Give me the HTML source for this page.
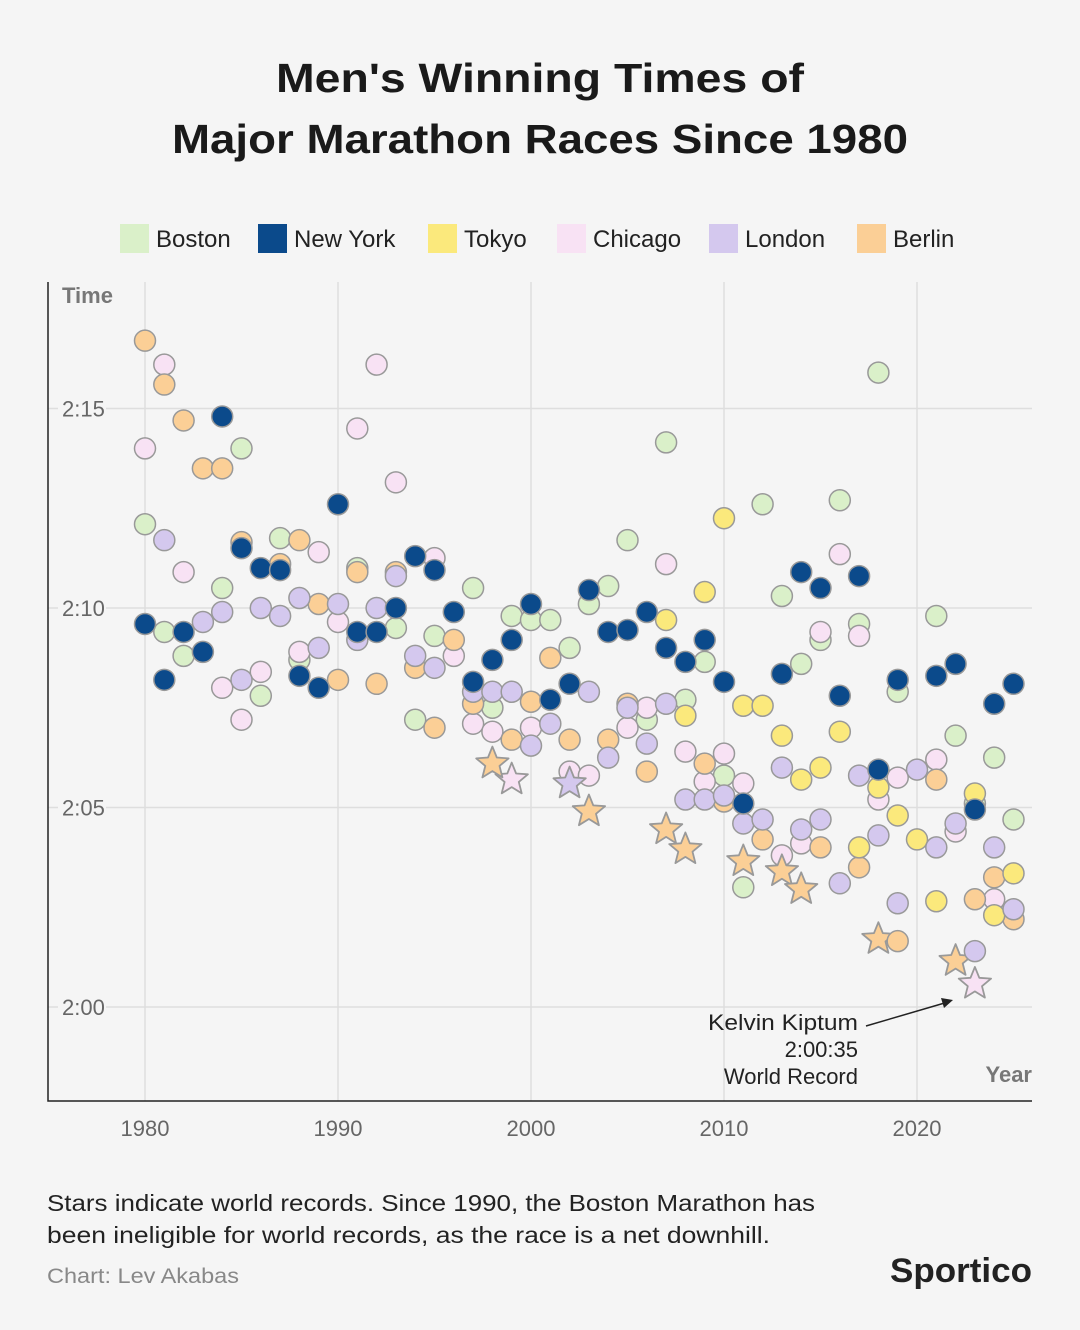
<!DOCTYPE html>
<html><head><meta charset="utf-8">
<style>
body{margin:0;background:#f5f5f5;}
svg{display:block;font-family:"Liberation Sans",sans-serif;}
</style></head>
<body>
<svg id="chart" width="1080" height="1330" viewBox="0 0 1080 1330">
<rect width="1080" height="1330" fill="#f5f5f5"/>
<text x="276" y="92" font-size="41" font-weight="bold" fill="#1a1a1a" textLength="528" lengthAdjust="spacingAndGlyphs">Men's Winning Times of</text>
<text x="172" y="153" font-size="41" font-weight="bold" fill="#1a1a1a" textLength="736" lengthAdjust="spacingAndGlyphs">Major Marathon Races Since 1980</text>
<g id="legend"></g>
<g id="grid"></g>
<g id="marks"></g>
<text x="62" y="303" font-size="22" font-weight="bold" fill="#777">Time</text>
<text x="1032" y="1082" text-anchor="end" font-size="22" font-weight="bold" fill="#777">Year</text>
<g>
<text x="708" y="1030" font-size="22" fill="#222" textLength="150" lengthAdjust="spacingAndGlyphs">Kelvin Kiptum</text>
<text x="858" y="1057" text-anchor="end" font-size="22" fill="#222">2:00:35</text>
<text x="858" y="1084" text-anchor="end" font-size="22" fill="#222">World Record</text>
<line x1="866" y1="1026" x2="948" y2="1002" stroke="#222" stroke-width="1.5"/>
<path d="M953,1000 L941,998 L944,1008 Z" fill="#222"/>
</g>
<text x="47" y="1211" font-size="23" fill="#222" textLength="768" lengthAdjust="spacingAndGlyphs">Stars indicate world records. Since 1990, the Boston Marathon has</text>
<text x="47" y="1243" font-size="23" fill="#222" textLength="723" lengthAdjust="spacingAndGlyphs">been ineligible for world records, as the race is a net downhill.</text>
<text x="47" y="1283" font-size="21" fill="#888" textLength="192" lengthAdjust="spacingAndGlyphs">Chart: Lev Akabas</text>
<text x="890" y="1282" font-size="34" font-weight="bold" fill="#222" textLength="142" lengthAdjust="spacingAndGlyphs">Sportico</text>
</svg>
<script>
const seriesNames = ["Boston","New York","Tokyo","Chicago","London","Berlin"];
const seriesColors = ["#daf0c9","#0b4a8b","#fbe97c","#f8e2f4","#d4c8ee","#fbcf96"];
const xTicks = [1980,1990,2000,2010,2020];
const yTicks = [0,5,10,15];
const yTickLabels = ["2:00","2:05","2:10","2:15"];

const bostonYears = [1980,1981,1982,1984,1985,1986,1987,1988,1991,1993,1994,1995,1997,1998,1999,2000,2001,2002,2003,2004,2005,2006,2007,2008,2009,2010,2011,2012,2013,2014,2015,2016,2017,2018,2019,2021,2022,2023,2024,2025];
const bostonTimes = [12.1,9.4,8.8,10.5,14.0,7.8,11.75,8.7,11.0,9.5,7.2,9.3,10.5,7.5,9.8,9.7,9.7,9.0,10.1,10.55,11.7,7.2,14.15,7.7,8.65,5.8,3.0,12.6,10.3,8.6,9.2,12.7,9.6,15.9,7.9,9.8,6.8,5.1,6.25,4.7];
const bostonRecords = [];

const nyYears = [1980,1981,1982,1983,1984,1985,1986,1987,1988,1989,1990,1991,1992,1993,1994,1995,1996,1997,1998,1999,2000,2001,2002,2003,2004,2005,2006,2007,2008,2009,2010,2011,2013,2014,2015,2016,2017,2018,2019,2021,2022,2023,2024,2025];
const nyTimes = [9.6,8.2,9.4,8.9,14.8,11.5,11.0,10.95,8.3,8.0,12.6,9.4,9.4,10.0,11.3,10.95,9.9,8.15,8.7,9.2,10.1,7.7,8.1,10.45,9.4,9.45,9.9,9.0,8.65,9.2,8.15,5.1,8.35,10.9,10.5,7.8,10.8,5.95,8.2,8.3,8.6,4.95,7.6,8.1];
const nyRecords = [];

const tokyoYears = [2007,2008,2009,2010,2011,2012,2013,2014,2015,2016,2017,2018,2019,2020,2021,2023,2024,2025];
const tokyoTimes = [9.7,7.3,10.4,12.25,7.55,7.55,6.8,5.7,6.0,6.9,4.0,5.5,4.8,4.2,2.65,5.35,2.3,3.35];
const tokyoRecords = [];

const chicagoYears = [1980,1981,1982,1984,1985,1986,1988,1989,1990,1991,1992,1993,1995,1996,1997,1998,1999,2000,2002,2003,2005,2006,2007,2008,2009,2010,2011,2013,2014,2015,2016,2017,2018,2019,2021,2022,2023,2024];
const chicagoTimes = [14.0,16.1,10.9,8.0,7.2,8.4,8.9,11.4,9.65,14.5,16.1,13.15,11.25,8.8,7.1,6.9,5.7,7.0,5.9,5.8,7.0,7.5,11.1,6.4,5.65,6.35,5.6,3.8,4.1,9.4,11.35,9.3,5.2,5.75,6.2,4.4,0.58,2.7];
const chicagoRecords = [1999,2023];

const londonYears = [1981,1983,1984,1985,1986,1987,1988,1989,1990,1991,1992,1993,1994,1995,1997,1998,1999,2000,2001,2002,2003,2004,2005,2006,2007,2008,2009,2010,2011,2012,2013,2014,2015,2016,2017,2018,2019,2020,2021,2022,2023,2024,2025];
const londonTimes = [11.7,9.65,9.9,8.2,10.0,9.8,10.25,9.0,10.1,9.2,10.0,10.8,8.8,8.5,7.9,7.9,7.9,6.55,7.1,5.6,7.9,6.25,7.5,6.6,7.6,5.2,5.2,5.3,4.6,4.7,6.0,4.45,4.7,3.1,5.8,4.3,2.6,5.95,4.0,4.6,1.4,4.0,2.45];
const londonRecords = [2002];

const berlinYears = [1980,1981,1982,1983,1984,1985,1987,1988,1989,1990,1991,1992,1993,1994,1995,1996,1997,1998,1999,2000,2001,2002,2003,2004,2005,2006,2007,2008,2009,2010,2011,2012,2013,2014,2015,2017,2018,2019,2021,2022,2023,2024,2025];
const berlinTimes = [16.7,15.6,14.7,13.5,13.5,11.65,11.1,11.7,10.1,8.2,10.9,8.1,10.9,8.5,7.0,9.2,7.6,6.1,6.7,7.65,8.75,6.7,4.9,6.7,7.6,5.9,4.45,3.95,6.1,5.15,3.65,4.2,3.4,2.95,4.0,3.5,1.7,1.65,5.7,1.15,2.7,3.25,2.2];
const berlinRecords = [1998,2003,2007,2008,2011,2013,2014,2018,2022];

const allYears = [bostonYears,nyYears,tokyoYears,chicagoYears,londonYears,berlinYears];
const allTimes = [bostonTimes,nyTimes,tokyoTimes,chicagoTimes,londonTimes,berlinTimes];
const allRecords = [bostonRecords,nyRecords,tokyoRecords,chicagoRecords,londonRecords,berlinRecords];

const NS = "http://www.w3.org/2000/svg";
const X0 = 48, X1 = 1032, Y0 = 282, Y1 = 1101;
function xScale(yr){ return 145 + (yr - 1980) * 19.3; }
function yScale(m){ return 1007 - m * 39.9; }
function mk(tag, attrs, parent){ const e = document.createElementNS(NS, tag); for (const k in attrs) e.setAttribute(k, attrs[k]); parent.appendChild(e); return e; }

const grid = document.getElementById("grid");
xTicks.forEach(function(t){
  const l = mk("line",{x1:xScale(t),x2:xScale(t),y1:Y0,y2:Y1,stroke:"#dedede","stroke-width":1.5},grid);
  
  
  const tx = mk("text",{x:xScale(t),y:1136,"text-anchor":"middle","font-size":22,fill:"#666"},grid);
  tx.textContent = t;
  
  
});
yTicks.forEach(function(t,i){
  const l = mk("line",{x1:X0,x2:X1,y1:yScale(t),y2:yScale(t),stroke:"#dedede","stroke-width":1.5},grid);
  
  
  mk("rect",{x:58,y:yScale(t)-12,width:48,height:24,fill:"#f5f5f5"},grid);
  const tx = mk("text",{x:62,y:yScale(t)+8,"font-size":22,fill:"#666"},grid);
  tx.textContent = yTickLabels[i];
  
  
});
const ax = mk("path",{d:"M"+X0+","+Y0+" V"+Y1+" H"+X1,fill:"none",stroke:"#222","stroke-width":1.5},grid);



const legend = document.getElementById("legend");
const legendX = [120,258,428,557,709,857];
seriesNames.forEach(function(n,i){
  const g = mk("g",{},legend);
  
  
  mk("rect",{x:legendX[i],y:224,width:29,height:29,fill:seriesColors[i]},g);
  const t = mk("text",{x:legendX[i]+36,y:247,"font-size":24,fill:"#222"},g);
  t.textContent = n;
});

function starPath(cx,cy,R,r){
  let d="";
  for(let k=0;k<10;k++){
    const rad = k%2===0 ? R : r;
    const a = -Math.PI/2 + k*Math.PI/5;
    d += (k===0?"M":"L") + (cx+rad*Math.cos(a)).toFixed(1) + "," + (cy+rad*Math.sin(a)).toFixed(1);
  }
  return d+"Z";
}

const marks = document.getElementById("marks");
const order = [0,3,5,2,4,1];
order.forEach(function(s){
  const g = mk("g",{},marks);
  
  
  allYears[s].forEach(function(yr,i){
    const cx = xScale(yr), cy = yScale(allTimes[s][i]);
    if (allRecords[s].indexOf(yr) >= 0) {
      const p = mk("path",{d:starPath(cx,cy,17,7.5),fill:seriesColors[s],stroke:"#999","stroke-width":1.8,"stroke-linejoin":"round"},g);
      
      
    } else {
      const c = mk("circle",{cx:cx,cy:cy,r:10.5,fill:seriesColors[s],stroke:"#999","stroke-width":1.5},g);
      
      
    }
  });
});
</script>
</body></html>
